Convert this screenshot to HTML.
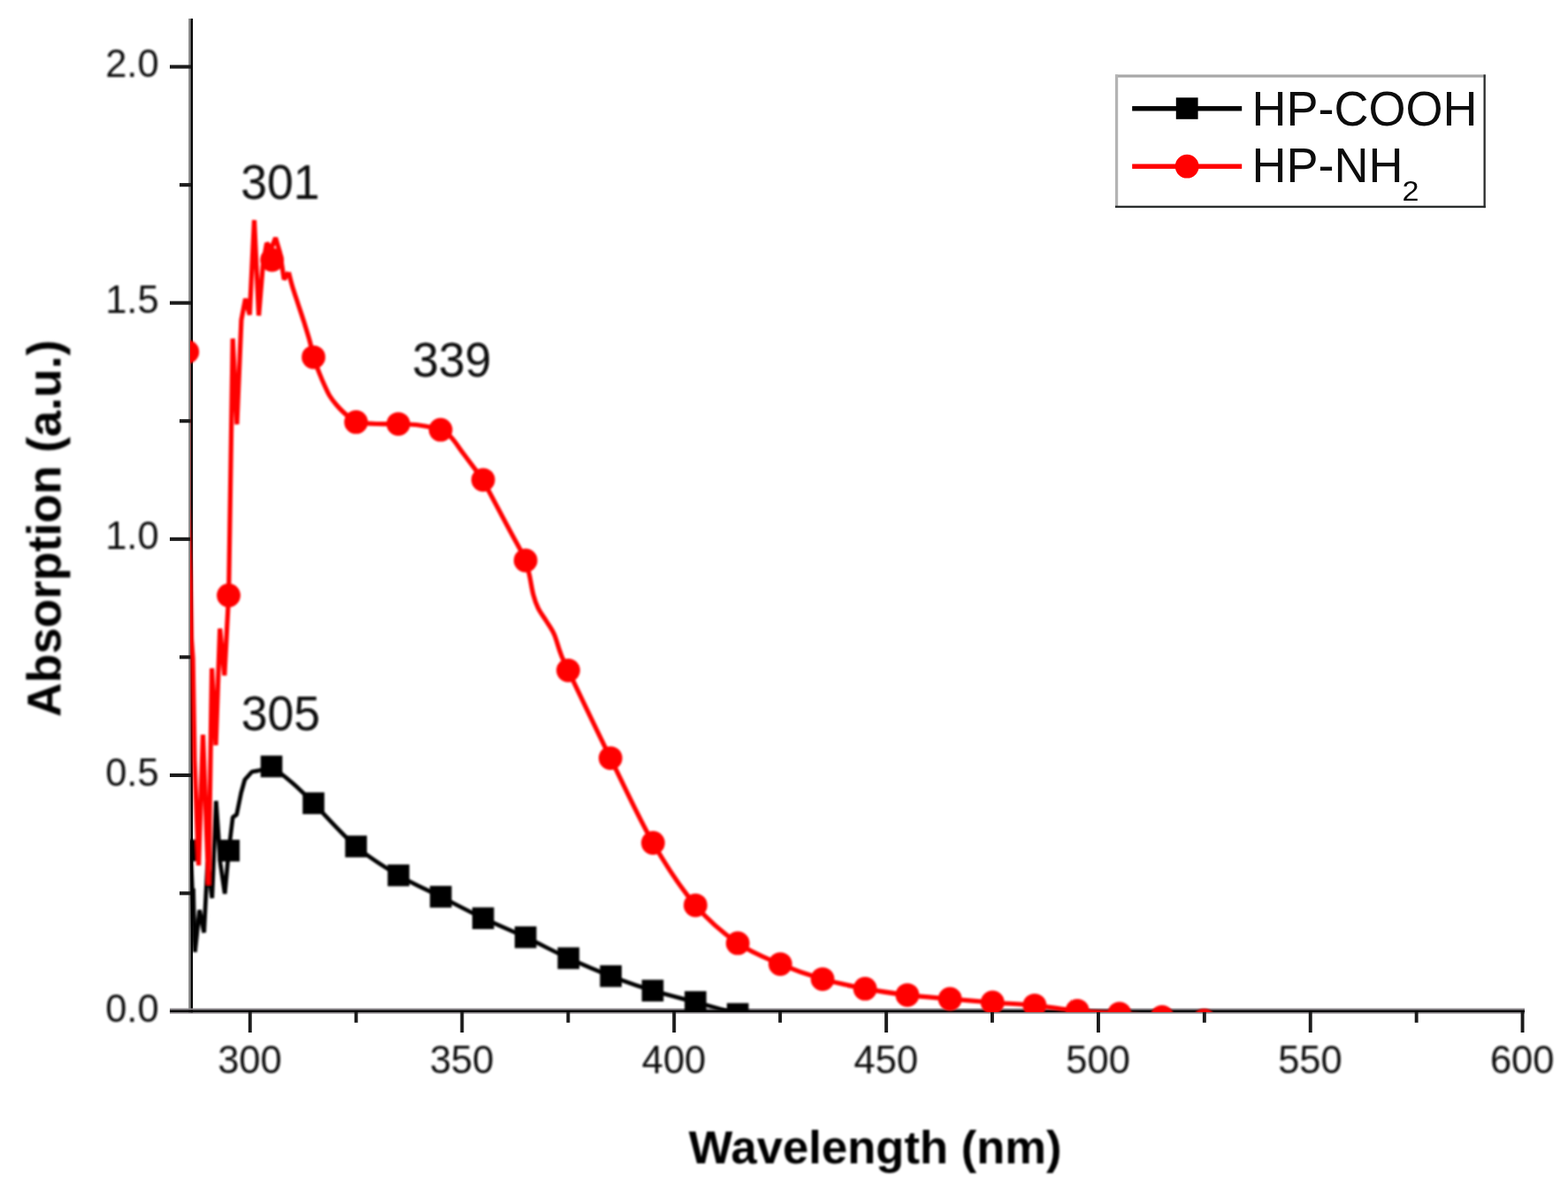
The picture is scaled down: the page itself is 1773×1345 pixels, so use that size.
<!DOCTYPE html>
<html lang="en">
<head>
<meta charset="utf-8">
<title>UV-vis absorption spectra: HP-COOH and HP-NH2</title>
<style>
html,body{margin:0;padding:0;background:#fff;}
body{width:1773px;height:1345px;overflow:hidden;}
svg{display:block;}
text{white-space:pre;}
</style>
</head>
<body>
<svg width="1773" height="1345" viewBox="0 0 1773 1345">
<defs><clipPath id="plot"><rect x="215.6" y="0" width="1557.4" height="1144.5"/></clipPath>
<filter id="soft" filterUnits="userSpaceOnUse" x="0" y="0" width="1773" height="1345"><feGaussianBlur stdDeviation="0.8"/></filter>
<filter id="soft2" filterUnits="userSpaceOnUse" x="0" y="0" width="1773" height="1345"><feGaussianBlur stdDeviation="0.4"/></filter></defs>
<rect width="1773" height="1345" fill="#fff"/>
<g id="axes" filter="url(#soft2)">
<rect x="213.2" y="21" width="2.5" height="1126" fill="#858585"/>
<rect x="215.6" y="21" width="2.5" height="1126" fill="#000"/>
<rect x="192" y="1140.6" width="1532" height="2.1" fill="#8c888c"/>
<rect x="192" y="1142.5" width="1532" height="3.1" fill="#000"/>
<rect x="192" y="1145.5" width="1532" height="1.5" fill="#b4b0b4"/>
<rect x="203" y="1008.4" width="13" height="4.1" fill="#1c1c1c"/>
<rect x="192" y="874.9" width="24" height="4.1" fill="#1c1c1c"/>
<rect x="203" y="741.3" width="13" height="4.1" fill="#1c1c1c"/>
<rect x="192" y="607.8" width="24" height="4.1" fill="#1c1c1c"/>
<rect x="203" y="474.2" width="13" height="4.1" fill="#1c1c1c"/>
<rect x="192" y="340.6" width="24" height="4.1" fill="#1c1c1c"/>
<rect x="203" y="207.1" width="13" height="4.1" fill="#1c1c1c"/>
<rect x="192" y="73.5" width="24" height="4.1" fill="#1c1c1c"/>
<rect x="280.8" y="1145" width="3.9" height="23" fill="#1c1c1c"/>
<rect x="400.7" y="1145" width="3.9" height="11.8" fill="#1c1c1c"/>
<rect x="520.5" y="1145" width="3.9" height="23" fill="#1c1c1c"/>
<rect x="640.5" y="1145" width="3.9" height="11.8" fill="#1c1c1c"/>
<rect x="760.3" y="1145" width="3.9" height="23" fill="#1c1c1c"/>
<rect x="880.2" y="1145" width="3.9" height="11.8" fill="#1c1c1c"/>
<rect x="1000.2" y="1145" width="3.9" height="23" fill="#1c1c1c"/>
<rect x="1120" y="1145" width="3.9" height="11.8" fill="#1c1c1c"/>
<rect x="1240" y="1145" width="3.9" height="23" fill="#1c1c1c"/>
<rect x="1359.9" y="1145" width="3.9" height="11.8" fill="#1c1c1c"/>
<rect x="1479.8" y="1145" width="3.9" height="23" fill="#1c1c1c"/>
<rect x="1599.7" y="1145" width="3.9" height="11.8" fill="#1c1c1c"/>
<rect x="1719.6" y="1145" width="3.9" height="23" fill="#1c1c1c"/>
</g>
<g font-family="'Liberation Sans', Arial, sans-serif" font-size="43.5" fill="#111" filter="url(#soft)">
<text transform="translate(179.6 1155.6) scale(0.9615 1)" font-size="45.2" text-anchor="end">0.0</text>
<text transform="translate(179.6 888.5) scale(0.9615 1)" font-size="45.2" text-anchor="end">0.5</text>
<text transform="translate(179.6 621.4) scale(0.9615 1)" font-size="45.2" text-anchor="end">1.0</text>
<text transform="translate(179.6 354.3) scale(0.9615 1)" font-size="45.2" text-anchor="end">1.5</text>
<text transform="translate(179.6 87.2) scale(0.9615 1)" font-size="45.2" text-anchor="end">2.0</text>
<text transform="translate(282.4 1214.2) scale(0.9615 1)" font-size="45.2" text-anchor="middle">300</text>
<text transform="translate(522.2 1214.2) scale(0.9615 1)" font-size="45.2" text-anchor="middle">350</text>
<text transform="translate(762 1214.2) scale(0.9615 1)" font-size="45.2" text-anchor="middle">400</text>
<text transform="translate(1001.8 1214.2) scale(0.9615 1)" font-size="45.2" text-anchor="middle">450</text>
<text transform="translate(1241.6 1214.2) scale(0.9615 1)" font-size="45.2" text-anchor="middle">500</text>
<text transform="translate(1481.4 1214.2) scale(0.9615 1)" font-size="45.2" text-anchor="middle">550</text>
<text transform="translate(1721.2 1214.2) scale(0.9615 1)" font-size="45.2" text-anchor="middle">600</text>
</g>
<g clip-path="url(#plot)"><g filter="url(#soft)">
<path d="M210.8 962 L215.6 965 L217.6 1010 L220.4 1077 L225.6 1029.5 L230.7 1055 L234.7 975 L239.8 1016 L244.3 906 L249.2 977 L254.2 1011 L258.7 962 L263.2 924.5 L267.6 921.5 L272.6 897 L276.8 882 L284.9 873 L293 871.6" fill="none" stroke="#000" stroke-width="4.7" stroke-linejoin="bevel"/>
<path d="M293 871.6 C294.2 871.3 297.7 870.6 300 870 C302.3 869.4 301.8 865.3 307 868 C312.2 870.7 323.1 879.2 331 886 C338.9 892.8 342.6 896.7 354.5 908.6 C366.4 920.5 386.6 943.9 402.6 957.5 C418.6 971.1 434.6 980.7 450.6 990.2 C466.6 999.7 482.4 1006.3 498.4 1014.4 C514.3 1022.5 530.3 1031.1 546.3 1038.7 C562.3 1046.3 578.2 1052.7 594.3 1060.2 C610.4 1067.7 626.7 1076.6 642.8 1083.9 C658.9 1091.2 674.8 1098.1 690.7 1104.2 C706.6 1110.3 722 1115.7 738 1120.6 C754 1125.5 770.4 1129.3 786.4 1133.5 C802.4 1137.7 818.3 1143.2 834.2 1146 C850.1 1148.8 874 1149.3 882 1150" fill="none" stroke="#000" stroke-width="4.7" stroke-linejoin="round"/>
<path d="M218.4 1005 L219.6 1060 L220.6 1076" fill="none" stroke="#000" stroke-width="5"/>
<rect x="198.5" y="949.7" width="24.6" height="24.6" fill="#000"/>
<rect x="246.4" y="949.9" width="24.6" height="24.6" fill="#000"/>
<rect x="294.7" y="854.7" width="24.6" height="24.6" fill="#000"/>
<rect x="342.2" y="896.3" width="24.6" height="24.6" fill="#000"/>
<rect x="390.3" y="945.2" width="24.6" height="24.6" fill="#000"/>
<rect x="438.3" y="977.9" width="24.6" height="24.6" fill="#000"/>
<rect x="486.1" y="1002.1" width="24.6" height="24.6" fill="#000"/>
<rect x="534" y="1026.4" width="24.6" height="24.6" fill="#000"/>
<rect x="582" y="1047.9" width="24.6" height="24.6" fill="#000"/>
<rect x="630.5" y="1071.6" width="24.6" height="24.6" fill="#000"/>
<rect x="678.4" y="1091.9" width="24.6" height="24.6" fill="#000"/>
<rect x="725.7" y="1108.3" width="24.6" height="24.6" fill="#000"/>
<rect x="774.1" y="1121.2" width="24.6" height="24.6" fill="#000"/>
<rect x="821.9" y="1134.7" width="24.6" height="24.6" fill="#000"/>
<path d="M211.8 398 L212.5 570 L215.2 655 L216.5 723 L218.1 745 L220 860 L224.6 979 L229.5 831 L235.8 1001 L239.6 756 L244 843 L248.7 711 L253.8 764 L258.6 673.5 L263.2 383 L267.9 480 L272.9 362 L277.5 338 L282.3 356 L287.5 249 L292.6 357 L297.3 300 L301.6 275 L306.8 281 L311.6 269 L316.6 286 L321.2 316 L326.4 308" fill="none" stroke="#f00" stroke-width="5.2" stroke-linejoin="bevel"/>
<path d="M326.4 308 C327.1 310.6 328.7 317.8 330.5 323.7 C332.3 329.6 334.8 337 337 343.7 C339.2 350.4 341.4 356.8 343.6 363.8 C345.8 370.9 348.5 379.3 350.3 386 C352.1 392.7 352.7 398 354.5 404.1 C356.3 410.2 359.2 417.3 361.3 422.6 C363.4 427.9 365.1 431.9 367 436 C368.9 440.1 370.4 443.9 372.6 447.5 C374.8 451.1 377.4 454.4 380 457.5 C382.6 460.6 385.5 463.6 388 466 C390.5 468.4 392.6 470.1 395 472 C397.4 473.9 397.4 476.1 402.6 477.4 C407.8 478.6 418 479.1 426 479.5 C434 479.9 442.4 479.4 450.4 479.6 C458.4 479.9 466 479.9 474 481 C482 482.1 492.2 483.9 498.2 486.2 C504.2 488.5 505.9 490.4 510.2 494.8 C514.5 499.2 519.2 506.8 523.7 512.8 C528.2 518.8 533.5 525.9 537.3 530.9 C541.1 535.9 543.7 538.6 546.3 542.8 C548.9 547 548.1 546.7 553 556 C557.9 565.3 569.6 587.3 575.6 598.5 C581.6 609.7 586 617.4 589.1 623.3 C592.2 629.2 592.7 629.5 594.3 634 C595.9 638.5 597 643.6 598.5 650 C600 656.4 601.3 666.2 603 672.6 C604.7 679 606.2 683.4 608.7 688.4 C611.2 693.4 614.7 697.6 617.7 702.5 C620.7 707.4 624.1 711.8 626.7 717.7 C629.3 723.6 630.9 731.2 633.5 738 C636.1 744.8 633 738.4 642.5 758.3 C652 778.2 674.3 825.1 690.3 857.6 C706.3 890.1 722.4 925.8 738.4 953.5 C754.4 981.2 770.4 1005.2 786.4 1024.1 C802.4 1043 818.2 1055.8 834.2 1066.9 C850.2 1078 866.3 1083.8 882.3 1090.6 C898.3 1097.4 914.1 1103 930.1 1107.6 C946.1 1112.2 962.2 1115.4 978.2 1118.4 C994.2 1121.4 1010 1123.7 1026 1125.6 C1042 1127.5 1058.2 1128.6 1074.2 1130 C1090.2 1131.4 1106.3 1132.8 1122.3 1134 C1138.2 1135.2 1153.9 1135.8 1169.9 1137.3 C1185.9 1138.8 1202.2 1141.8 1218.2 1143.3 C1234.2 1144.8 1249.8 1145.4 1265.8 1146.6 C1281.8 1147.8 1298 1149.2 1314 1150.5 C1330 1151.8 1345.6 1153.2 1361.6 1154.5 C1377.6 1155.8 1401.9 1157.4 1410 1158" fill="none" stroke="#f00" stroke-width="5.2" stroke-linejoin="round"/>
<circle cx="211.8" cy="398" r="13.4" fill="#f00"/>
<circle cx="258.5" cy="673.5" r="13.4" fill="#f00"/>
<circle cx="307.6" cy="294" r="13.4" fill="#f00"/>
<circle cx="354.5" cy="404.1" r="13.4" fill="#f00"/>
<circle cx="402.6" cy="477.4" r="13.4" fill="#f00"/>
<circle cx="450.4" cy="479.6" r="13.4" fill="#f00"/>
<circle cx="498.2" cy="486.2" r="13.4" fill="#f00"/>
<circle cx="546.3" cy="542.8" r="13.4" fill="#f00"/>
<circle cx="594.3" cy="634" r="13.4" fill="#f00"/>
<circle cx="642.5" cy="758.3" r="13.4" fill="#f00"/>
<circle cx="690.3" cy="857.6" r="13.4" fill="#f00"/>
<circle cx="738.4" cy="953.5" r="13.4" fill="#f00"/>
<circle cx="786.4" cy="1024.1" r="13.4" fill="#f00"/>
<circle cx="834.2" cy="1066.9" r="13.4" fill="#f00"/>
<circle cx="882.3" cy="1090.6" r="13.4" fill="#f00"/>
<circle cx="930.1" cy="1107.6" r="13.4" fill="#f00"/>
<circle cx="978.2" cy="1118.4" r="13.4" fill="#f00"/>
<circle cx="1026" cy="1125.6" r="13.4" fill="#f00"/>
<circle cx="1074.2" cy="1130" r="13.4" fill="#f00"/>
<circle cx="1122.3" cy="1134" r="13.4" fill="#f00"/>
<circle cx="1169.9" cy="1137.3" r="13.4" fill="#f00"/>
<circle cx="1218.2" cy="1143.3" r="13.4" fill="#f00"/>
<circle cx="1265.8" cy="1146.6" r="13.4" fill="#f00"/>
<circle cx="1314" cy="1150.5" r="13.4" fill="#f00"/>
<circle cx="1361.6" cy="1154.5" r="13.4" fill="#f00"/>
</g></g>
<g font-family="'Liberation Sans', Arial, sans-serif" font-size="53.5" fill="#0a0a0a" filter="url(#soft)">
<text transform="translate(272.3 224.8) scale(0.9615 1)" font-size="55.6" text-anchor="start">301</text>
<text transform="translate(466.2 426.4) scale(0.9615 1)" font-size="55.6" text-anchor="start">339</text>
<text transform="translate(272.8 825.8) scale(0.9615 1)" font-size="55.6" text-anchor="start">305</text>
</g>
<g id="legend" filter="url(#soft2)">
<rect x="1262.6" y="86" width="415.6" height="147" fill="#fff"/>
<rect x="1261" y="84.4" width="418.8" height="3.2" fill="#a8a8a8"/>
<rect x="1261" y="84.4" width="3.2" height="150.3" fill="#b4b4b4"/>
<rect x="1261" y="232.7" width="418.8" height="2.4" fill="#2a2d2d"/>
<rect x="1677.5" y="84.4" width="2.3" height="150.7" fill="#2a2d2d"/>
<rect x="1280.2" y="120.1" width="124" height="5.4" fill="#000"/>
<rect x="1329.8" y="110.4" width="24.8" height="24.4" fill="#000"/>
<rect x="1280.2" y="185.5" width="124" height="5.4" fill="#f00"/>
<circle cx="1342.2" cy="188.2" r="13.4" fill="#f00"/>
<g font-family="'Liberation Sans', Arial, sans-serif" font-size="54" fill="#0a0a0a">
<text transform="translate(1415.4 141.6) scale(0.9615 1)" font-size="56.2" text-anchor="start">HP-COOH</text>
<text transform="translate(1415.4 206.2) scale(0.9615 1)" font-size="56.2" text-anchor="start">HP-NH</text>
<text x="1585.6" y="227.4" font-size="30.5" textLength="19" lengthAdjust="spacingAndGlyphs">2</text>
</g>
</g>
<g font-family="'Liberation Sans', Arial, sans-serif" font-weight="bold" font-size="52.4" fill="#000" filter="url(#soft)">
<text transform="translate(989.7 1315.6) scale(1.0000 1)" font-size="52.6" text-anchor="middle">Wavelength (nm)</text>
<text transform="translate(68.4 597.7) rotate(-90) scale(1.0000 1)" text-anchor="middle" font-size="53.3">Absorption (a.u.)</text>
</g>
</svg>
</body>
</html>
